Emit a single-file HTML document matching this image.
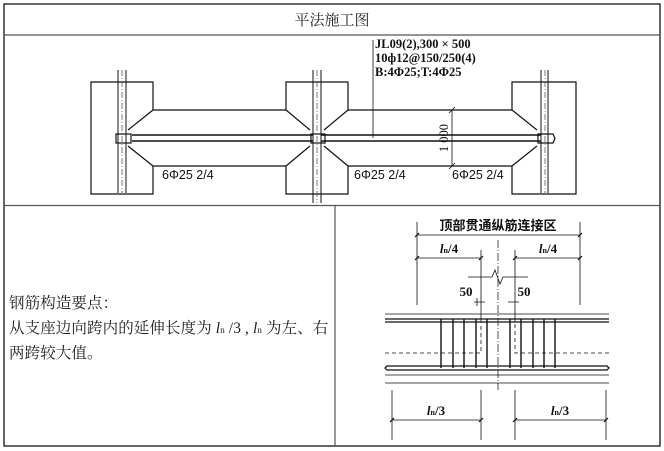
<!DOCTYPE html>
<html><head><meta charset="utf-8"><style>
html,body{margin:0;padding:0;background:#fff;}
svg{display:block;}
</style></head><body>
<svg width="664" height="451" viewBox="0 0 664 451" xmlns="http://www.w3.org/2000/svg" font-family="'Liberation Serif','Noto Serif CJK SC',serif">
<rect x="0" y="0" width="664" height="451" fill="#fff"/>
<rect x="4" y="4" width="656" height="442" fill="none" stroke="#333" stroke-width="1.5"/>
<line x1="4" y1="35" x2="660" y2="35" stroke="#555" stroke-width="1.2"/>
<line x1="4" y1="205.5" x2="660" y2="205.5" stroke="#555" stroke-width="1.2"/>
<line x1="335" y1="205.5" x2="335" y2="446" stroke="#555" stroke-width="1.2"/>
<text x="332" y="25" font-size="15" text-anchor="middle" fill="#222" font-family="'Liberation Serif','Noto Serif CJK SC',serif">平法施工图</text>

<g stroke="#111" stroke-width="1.2" fill="none">
<path d="M153,110 L286,110 M153,166 L286,166 M348,110 L512,110 M348,166 L512,166"/>
<path d="M153,110 V82 H91 V194 H153 V166"/>
<path d="M153,110 L128,130 M128,146 L153,166"/>
<path d="M286,110 V82 H348 V110 M286,166 V194 H348 V166"/>
<path d="M286,110 L310,130 M310,146 L286,166 M348,110 L324,130 M324,146 L348,166"/>
<path d="M512,110 V82 H576 V194 H512 V166 M512,166 L537,146 M537,130 L512,110"/>
<path d="M132,135 H313 M132,141 H313 M321,135 H541 M321,141 H541" stroke-width="1.4"/>
<rect x="116" y="134" width="15" height="9"/>
<rect x="311" y="134" width="14" height="9"/>
<path d="M538,134 H553 L555,138.5 L553,143 H538 Z"/>
<path d="M118,70 V193 M126,70 V193 M313,70 V203 M321,70 V203 M541,70 V193 M548,70 V193" stroke-width="1"/>
</g>
<g stroke="#444" stroke-width="0.7" stroke-dasharray="6,2,1,2">
<path d="M122,70 V193 M317,70 V203 M545,70 V193"/>
</g>
<line x1="373" y1="40" x2="373" y2="138" stroke="#111" stroke-width="0.8"/>
<g font-size="12.5" fill="#111" font-weight="bold">
<text x="375" y="48">JL09(2),300 × 500</text>
<text x="375" y="62">10ф12@150/250(4)</text>
<text x="375" y="76">B:4Φ25;T:4Φ25</text>
</g>
<line x1="452" y1="110" x2="452" y2="166" stroke="#111" stroke-width="0.8"/>
<path d="M449,113 L455,107 M449,169 L455,163" stroke="#111" stroke-width="0.8"/>
<text x="0" y="0" font-size="12.5" fill="#111" text-anchor="middle" transform="translate(448,138) rotate(-90)">1 000</text>
<g font-size="12.5" fill="#111" font-family="'Liberation Sans',sans-serif">
<text x="162" y="179">6Φ25 2/4</text>
<text x="354" y="179">6Φ25 2/4</text>
<text x="452" y="179">6Φ25 2/4</text>
</g>

<g font-size="15.5" fill="#222" letter-spacing="0.1" font-family="'Liberation Serif','Noto Serif CJK SC',serif">
<text x="9" y="308">钢筋构造要点：</text>
<text x="9" y="333">从支座边向跨内的延伸长度为 <tspan font-style="italic">l</tspan><tspan font-size="9">n</tspan> /3 , <tspan font-style="italic">l</tspan><tspan font-size="9">n</tspan> 为左、右</text>
<text x="9" y="358">两跨较大值。</text>
</g>

<text x="498" y="230" font-size="13" font-weight="bold" text-anchor="middle" fill="#111" font-family="'Liberation Sans','Noto Sans CJK SC',sans-serif">顶部贯通纵筋连接区</text>
<g stroke="#111" stroke-width="0.8" fill="none">
<path d="M417,222 V305 M580,222 V305 M417,235 H580 M417,258 H481 M515,258 H580"/>
<path d="M481,250 V322 M515,250 V322"/>
<path d="M468,277 H492 L495,270 L500,284 L503,277 H528"/>
<path d="M474,302 H485 M508,302 H519 M477,298 V306"/>
<path d="M385,314 H609 M385,383 H609 M385,375 H609"/>
<path d="M392,390 V440 M481,390 V440 M515,390 V440 M606,390 V440 M392,420 H481 M515,420 H606"/>
</g>
<g stroke="#111" stroke-width="1.2"><path d="M415,237 L419,233 M578,237 L582,233 M415,260 L419,256 M479,260 L483,256 M513,260 L517,256 M578,260 L582,256 M390,422 L394,418 M479,422 L483,418 M513,422 L517,418 M604,422 L608,418"/></g>
<path d="M385,319 H609 M385,322 H609" stroke="#111" stroke-width="1.3"/>
<path d="M387,366 H607 L609,368 L607,370 H387 L385,368 Z" stroke="#111" stroke-width="1.3" fill="none"/>
<path d="M385,353 H481 V322 M609,353 H515 V322" stroke="#111" stroke-width="0.8" stroke-dasharray="4,3" fill="none"/>
<g stroke="#111" stroke-width="1.4">
<path d="M441,319 V368 M453,319 V368 M464,319 V368 M476,319 V368 M487,319 V368 M510,319 V368 M521,319 V368 M533,319 V368 M544,319 V368 M555,319 V368"/>
</g>
<path d="M498,240 V390" stroke="#222" stroke-width="0.8" stroke-dasharray="8,2,1,2"/>
<g font-size="13" fill="#111" font-weight="bold">
<text x="466" y="296" text-anchor="middle">50</text>
<text x="524" y="296" text-anchor="middle">50</text>
<text x="449" y="253" text-anchor="middle"><tspan font-style="italic">l</tspan><tspan font-size="8">n</tspan>/4</text>
<text x="548" y="253" text-anchor="middle"><tspan font-style="italic">l</tspan><tspan font-size="8">n</tspan>/4</text>
<text x="436" y="415" text-anchor="middle"><tspan font-style="italic">l</tspan><tspan font-size="8">n</tspan>/3</text>
<text x="560" y="415" text-anchor="middle"><tspan font-style="italic">l</tspan><tspan font-size="8">n</tspan>/3</text>
</g>
</svg>
</body></html>
